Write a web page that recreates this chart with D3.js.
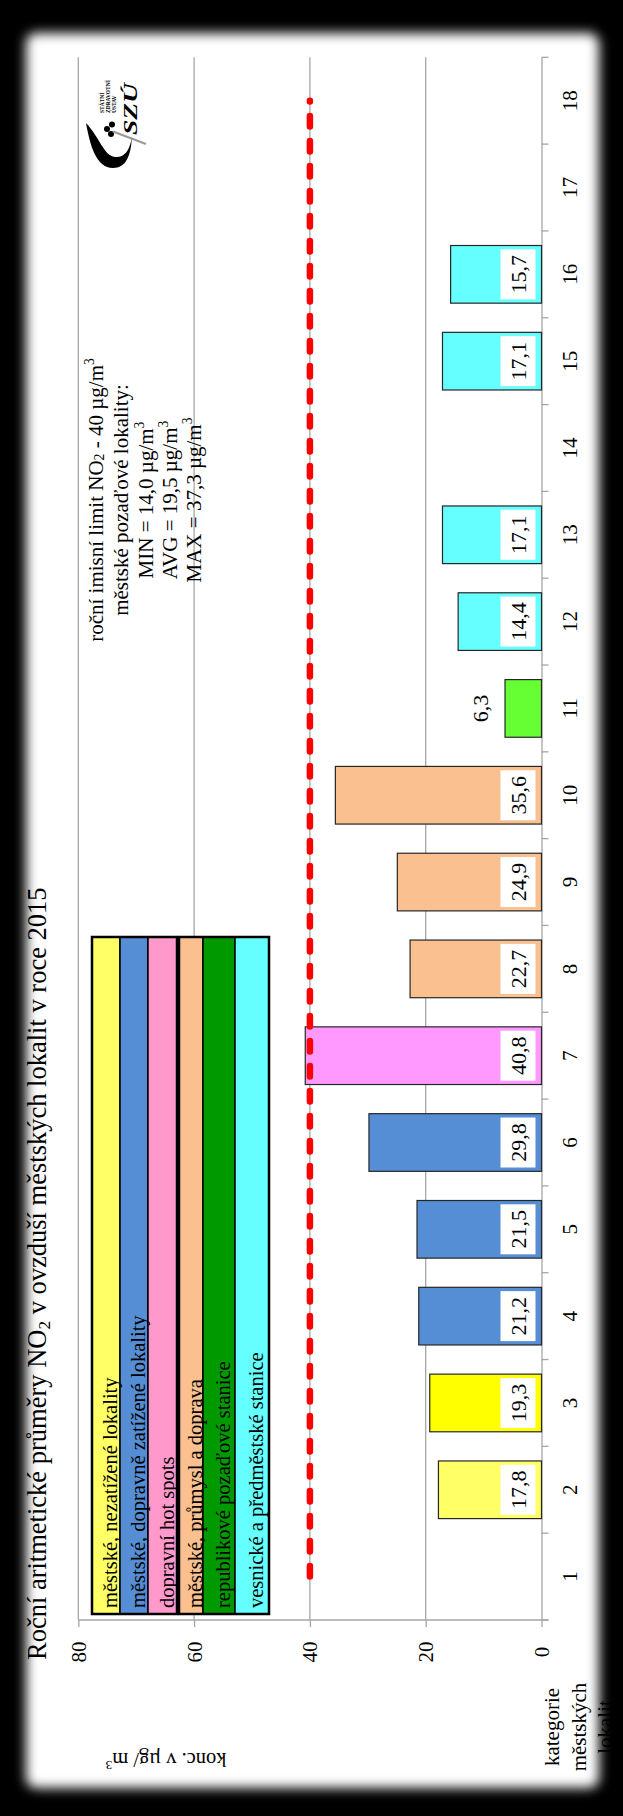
<!DOCTYPE html>
<html>
<head>
<meta charset="utf-8">
<script src="https://cdn.jsdelivr.net/npm/d3@7"></script>
<style>
  body { margin: 0; background: #000; }
  svg { display: block; }
  text { font-family: "Liberation Serif", "Times New Roman", serif; fill: #000; }
</style>
</head>
<body>
<div id="chart"></div>
<script>
// ---- data ----
var categories = ["1", "2", "3", "4", "5", "6", "7", "8", "9", "10", "11", "12", "13", "14", "15", "16", "17", "18"];
var values = [null, 17.8, 19.3, 21.2, 21.5, 29.8, 40.8, 22.7, 24.9, 35.6, 6.3, 14.4, 17.1, null, 17.1, 15.7, null, null];
var valueLabels = ["", "17,8", "19,3", "21,2", "21,5", "29,8", "40,8", "22,7", "24,9", "35,6", "6,3", "14,4", "17,1", "", "17,1", "15,7", "", ""];
var valueTicks = [0, 20, 40, 60, 80];
var limitValue = 40;
var legendLabels = [
  "městské, nezatížené lokality",
  "městské, dopravně zatížené lokality",
  "dopravní hot spots",
  "městské, průmysl a doprava",
  "republikové pozaďové stanice",
  "vesnické a předměstské stanice"
];
var noteLines = [
  "roční imisní limit NO_2 - 40 µg/m^3",
  "městské pozaďové lokality:",
  "MIN = 14,0 µg/m^3",
  "AVG = 19,5 µg/m^3",
  "MAX = 37,3 µg/m^3"
];
var titleText = "Roční aritmetické průměry NO_2 v ovzduší městských lokalit v roce 2015";
var valueTitle = "konc. v µg/ m^3";
var categoryTitle = ["kategorie", "městských", "lokalit"];

// ---- styles ----
var barFill = [null, "#FFFF66", "#FFFF00", "#558ED5", "#558ED5", "#558ED5", "#FF99FF", "#FAC090", "#FAC090", "#FAC090", "#66FF33", "#66FFFF", "#66FFFF", null, "#66FFFF", "#66FFFF", null, null];
var legendFill = ["#FFFF66", "#558ED5", "#FF99CC", "#FAC090", "#009900", "#66FFFF"];
var gridColor = "#a6a6a6";

// ---- layout ----
var svgWidth = 623, svgHeight = 1816;
var plot = { left: 78.3, right: 541.5, top: 57.3, bottom: 1620 };
// legend column edges (two framed blocks)
var legendBlocks = [[92, 120, 148, 177], [179, 203, 235, 269]];
var legendTop = 937, legendBottom = 1614;

var svg = d3.select("#chart").append("svg")
  .attr("width", svgWidth)
  .attr("height", svgHeight);

var defs = svg.append("defs");
defs.append("filter").attr("id", "soft")
  .attr("x", "-20%").attr("y", "-20%").attr("width", "140%").attr("height", "140%")
  .append("feGaussianBlur").attr("stdDeviation", 6);
var mask = defs.append("mask").attr("id", "vig")
  .attr("maskUnits", "userSpaceOnUse")
  .attr("x", -50).attr("y", -50).attr("width", svgWidth + 100).attr("height", svgHeight + 100);
mask.append("rect").attr("x", -50).attr("y", -50)
  .attr("width", svgWidth + 100).attr("height", svgHeight + 100).attr("fill", "white");
mask.append("rect").attr("x", 26).attr("y", 33).attr("width", 573).attr("height", 1755)
  .attr("rx", 10).attr("fill", "black").attr("filter", "url(#soft)");

svg.append("rect").attr("width", svgWidth).attr("height", svgHeight).attr("fill", "#fff");

// helper: text with _sub and ^sup markers
function richText(sel, str, size) {
  var parts = str.split(/([_^]\d)/);
  parts.forEach(function (p) {
    if (!p) return;
    if (p[0] === "_" || p[0] === "^") {
      sel.append("tspan").text(p[1])
        .attr("font-size", size * 0.65)
        .attr("baseline-shift", p[0] === "_" ? "-25%" : "45%");
    } else {
      sel.append("tspan").text(p);
    }
  });
}

// scales
var x = d3.scaleLinear().domain([0, 80]).range([plot.right, plot.left]);
var y = d3.scaleBand().domain(categories).range([plot.bottom, plot.top])
  .paddingInner(0.336).paddingOuter(0.168);
var gapHalf = (y.step() - y.bandwidth()) / 2;

// gridlines
svg.append("g").selectAll("line")
  .data(valueTicks.filter(function (d) { return d > 0; }))
  .enter().append("line")
  .attr("x1", function (d) { return x(d); })
  .attr("x2", function (d) { return x(d); })
  .attr("y1", plot.top)
  .attr("y2", plot.bottom)
  .attr("stroke", gridColor)
  .attr("stroke-width", 1.3);

// value axis (along the bottom)
var valueAxis = d3.axisBottom(x).tickValues(valueTicks).tickSize(7).tickSizeOuter(0);
var gv = svg.append("g")
  .attr("transform", "translate(0," + plot.bottom + ")")
  .call(valueAxis);
gv.select(".domain").attr("stroke", gridColor).attr("stroke-width", 1.3)
  .attr("d", "M" + (plot.right + 7) + ",0H" + plot.left);
gv.selectAll(".tick line").attr("stroke", gridColor).attr("stroke-width", 1.3);
gv.selectAll(".tick text")
  .attr("y", 0).attr("dy", null)
  .attr("transform", "translate(0,32) rotate(-90)")
  .attr("text-anchor", "middle")
  .attr("dominant-baseline", "central")
  .attr("font-size", 21)
  .attr("font-family", "Liberation Serif")
  .attr("fill", "#000");

// category axis (on the right)
var catAxis = d3.axisRight(y).tickSize(0).tickSizeOuter(0);
var gc = svg.append("g")
  .attr("transform", "translate(" + plot.right + ",0)")
  .call(catAxis);
gc.select(".domain").attr("stroke", gridColor).attr("stroke-width", 1.3);
gc.selectAll(".tick text")
  .attr("x", 0).attr("dy", null)
  .attr("transform", "translate(28,0) rotate(-90)")
  .attr("text-anchor", "middle")
  .attr("dominant-baseline", "central")
  .attr("font-size", 21)
  .attr("font-family", "Liberation Serif")
  .attr("fill", "#000");

// tick marks between categories
var boundaries = categories.map(function (c) { return y(c) - gapHalf; });
boundaries.push(y(categories[0]) + y.bandwidth() + gapHalf);
gc.append("g").selectAll("line")
  .data(boundaries)
  .enter().append("line")
  .attr("x1", 0).attr("x2", 7)
  .attr("y1", function (d) { return d; })
  .attr("y2", function (d) { return d; })
  .attr("stroke", gridColor)
  .attr("stroke-width", 1.3);

// bars
var barData = categories.map(function (c, i) {
  return { cat: c, value: values[i], label: valueLabels[i], fill: barFill[i] };
}).filter(function (d) { return d.value !== null; });

svg.append("g").selectAll("rect")
  .data(barData)
  .enter().append("rect")
  .attr("x", function (d) { return x(d.value); })
  .attr("y", function (d) { return y(d.cat); })
  .attr("width", function (d) { return x(0) - x(d.value); })
  .attr("height", y.bandwidth())
  .attr("fill", function (d) { return d.fill; })
  .attr("stroke", "#262626")
  .attr("stroke-width", 1.2);

// value labels
var lab = svg.append("g").selectAll("g")
  .data(barData)
  .enter().append("g")
  .attr("transform", function (d) {
    var cy = y(d.cat) + y.bandwidth() / 2;
    var inside = x(0) - x(d.value) > 45;
    var cx = inside ? x(0) - 6 - 17.5 : x(d.value) - 25;
    return "translate(" + cx + "," + cy + ")";
  });
lab.filter(function (d) { return x(0) - x(d.value) > 45; })
  .append("rect")
  .attr("x", -17.5).attr("y", -25)
  .attr("width", 35).attr("height", 50)
  .attr("fill", "#fff");
lab.append("text")
  .attr("transform", "rotate(-90)")
  .attr("text-anchor", "middle")
  .attr("dominant-baseline", "central")
  .attr("font-size", 22)
  .text(function (d) { return d.label; });

// limit line
var yFirst = y(categories[0]) + y.bandwidth() / 2;
var yLast = y(categories[categories.length - 1]) + y.bandwidth() / 2;
svg.append("line")
  .attr("x1", x(limitValue)).attr("x2", x(limitValue))
  .attr("y1", yFirst).attr("y2", yLast)
  .attr("stroke", "#ff0000")
  .attr("stroke-width", 6.5)
  .attr("stroke-linecap", "round")
  .attr("stroke-dasharray", "10.5,14.5");

// legend
var legendCols = [];
legendBlocks.forEach(function (edges) {
  for (var i = 0; i < edges.length - 1; i++) legendCols.push([edges[i], edges[i + 1]]);
});
var lg = svg.append("g");
lg.selectAll("rect.col")
  .data(legendCols)
  .enter().append("rect")
  .attr("class", "col")
  .attr("x", function (d) { return d[0]; })
  .attr("y", legendTop)
  .attr("width", function (d) { return d[1] - d[0]; })
  .attr("height", legendBottom - legendTop)
  .attr("fill", function (d, i) { return legendFill[i]; })
  .attr("stroke", "#000")
  .attr("stroke-width", 1.5);
lg.selectAll("rect.block")
  .data(legendBlocks)
  .enter().append("rect")
  .attr("class", "block")
  .attr("x", function (d) { return d[0]; })
  .attr("y", legendTop)
  .attr("width", function (d) { return d[d.length - 1] - d[0]; })
  .attr("height", legendBottom - legendTop)
  .attr("fill", "none")
  .attr("stroke", "#000")
  .attr("stroke-width", 2.5);
lg.selectAll("text")
  .data(legendLabels)
  .enter().append("text")
  .attr("transform", function (d, i) {
    var c = legendCols[i];
    return "translate(" + ((c[0] + c[1]) / 2 + 4) + "," + (legendBottom - 6) + ") rotate(-90)";
  })
  .attr("dominant-baseline", "central")
  .attr("font-size", 20.5)
  .text(function (d) { return d; });

// note
var noteX = [96, 121, 146, 170, 194];
noteLines.forEach(function (line, i) {
  var t = svg.append("text")
    .attr("transform", "translate(" + noteX[i] + ",500) rotate(-90)")
    .attr("text-anchor", "middle")
    .attr("dominant-baseline", "central")
    .attr("font-size", 21);
  richText(t, line, 21);
});

// title
var tt = svg.append("text")
  .attr("transform", "translate(46,1660) rotate(-90)")
  .attr("font-size", 26.5);
richText(tt, titleText, 26.5);

// value axis title (upside down)
var vt = svg.append("text")
  .attr("transform", "translate(166,1760) rotate(180)")
  .attr("text-anchor", "middle")
  .attr("dominant-baseline", "central")
  .attr("font-size", 20.5);
richText(vt, valueTitle, 20.5);

// category axis title
var catTitleX = [552, 579, 605];
categoryTitle.forEach(function (s, i) {
  svg.append("text")
    .attr("transform", "translate(" + catTitleX[i] + ",1727) rotate(-90)")
    .attr("text-anchor", "middle")
    .attr("dominant-baseline", "central")
    .attr("font-size", 21)
    .text(s);
});

// logo
var logo = svg.append("g");
logo.append("path")
  .attr("d", "M86,123 C90,145 96,168 113,168 C126,168 131,156 132,136 C130,152 123,158 115,157 C104,156 100,138 86,123 Z")
  .attr("fill", "#000");
[[107, 129], [112, 124.5], [111, 134]].forEach(function (p) {
  logo.append("circle").attr("cx", p[0]).attr("cy", p[1]).attr("r", 3).attr("fill", "#000");
});
logo.append("line")
  .attr("x1", 113).attr("y1", 131.5).attr("x2", 146).attr("y2", 144)
  .attr("stroke", "#999").attr("stroke-width", 2.2);
logo.append("text")
  .attr("transform", "translate(137,135) rotate(-90)")
  .attr("font-size", 19)
  .attr("font-weight", "bold")
  .attr("font-style", "italic")
  .attr("font-family", "DejaVu Sans")
  .attr("textLength", 52)
  .attr("lengthAdjust", "spacingAndGlyphs")
  .text("SZÚ");
["STÁTNÍ", "ZDRAVOTNÍ", "ÚSTAV"].forEach(function (s, i) {
  logo.append("text")
    .attr("transform", "translate(" + (104 + i * 6) + ",113) rotate(-90)")
    .attr("font-size", 5.5)
    .attr("font-weight", "bold")
    .attr("font-family", "DejaVu Sans")
    .text(s);
});

// dark vignette frame
svg.append("rect")
  .attr("x", -50).attr("y", -50)
  .attr("width", svgWidth + 100).attr("height", svgHeight + 100)
  .attr("fill", "#000")
  .attr("mask", "url(#vig)");
</script>
</body>
</html>
